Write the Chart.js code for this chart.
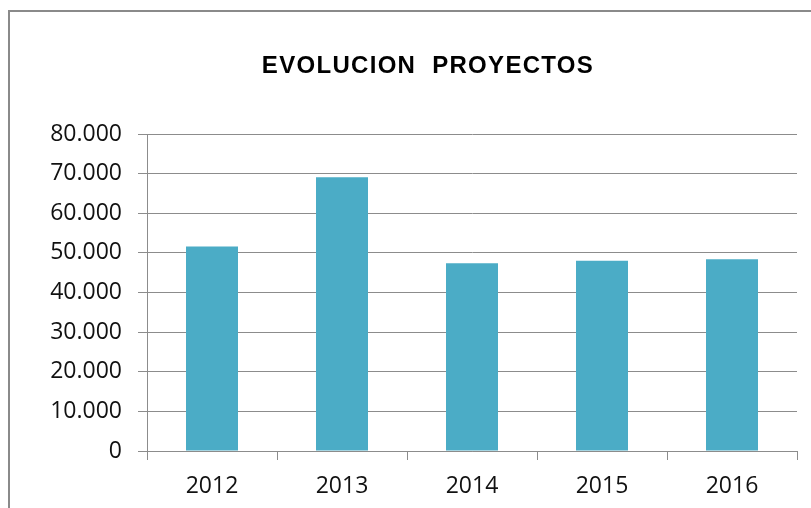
<!DOCTYPE html>
<html>
<head>
<meta charset="utf-8">
<script src="https://cdn.jsdelivr.net/npm/chart.js@4/dist/chart.umd.min.js"></script>
<style>
  body { margin: 0; background: #fff; }
  canvas { display: block; }
</style>
</head>
<body>
<canvas id="myChart" width="811" height="508"></canvas>
<script>
var years = ['2012', '2013', '2014', '2015', '2016'];
var proyectos = [51600, 69100, 47400, 48000, 48400];
var yTicks = [0, 10000, 20000, 30000, 40000, 50000, 60000, 70000, 80000];
var titulo = 'EVOLUCION  PROYECTOS';

var gridGray = '#8c8c8c';

// marco del grafico (borde gris arriba y a la izquierda) y titulo
var framePlugin = {
    id: 'frame',
    beforeDraw: function (chart) {
        var c = chart.ctx;
        c.save();
        c.fillStyle = '#fff';
        c.fillRect(0, 0, chart.width, chart.height);
        c.strokeStyle = '#8a8a8a';
        c.lineWidth = 2;
        c.beginPath();
        c.moveTo(9, chart.height);
        c.lineTo(9, 11);
        c.lineTo(chart.width, 11);
        c.stroke();
        c.restore();
    },
    afterDraw: function (chart) {
        var c = chart.ctx;
        c.save();
        c.fillStyle = '#000';
        c.font = 'bold 24px "Liberation Sans", Arial, sans-serif';
        c.letterSpacing = '1.3px';
        c.textAlign = 'center';
        c.textBaseline = 'middle';
        c.fillText(titulo, 428, 66);
        c.restore();
    }
};

var ctx = document.getElementById('myChart').getContext('2d');
var myChart = new Chart(ctx, {
    type: 'bar',
    data: {
        labels: years,
        datasets: [{
            label: 'Proyectos',
            data: proyectos,
            backgroundColor: '#4BACC6',
            borderWidth: 0,
            barPercentage: 0.4,
            categoryPercentage: 1
        }]
    },
    options: {
        responsive: false,
        animation: false,
        layout: { padding: { left: 0, right: 14, top: 134, bottom: 0 } },
        plugins: {
            legend: { display: false },
            tooltip: { enabled: false },
            title: { display: false }
        },
        scales: {
            x: {
                offset: true,
                grid: {
                    offset: true,
                    drawOnChartArea: false,
                    drawTicks: true,
                    tickLength: 9,
                    color: gridGray
                },
                border: { color: gridGray },
                ticks: {
                    color: '#111',
                    padding: 13,
                    font: { family: '"Open Sans", sans-serif', size: 23 }
                },
                afterFit: function (scale) { scale.height = 57; }
            },
            y: {
                min: 0,
                max: 80000,
                afterBuildTicks: function (scale) {
                    scale.ticks = yTicks.map(function (v) { return { value: v }; });
                },
                grid: {
                    color: gridGray,
                    tickLength: 9
                },
                border: { color: gridGray },
                ticks: {
                    color: '#111',
                    padding: 16,
                    font: { family: '"Open Sans", sans-serif', size: 23 },
                    callback: function (v) { return v.toLocaleString('de-DE'); }
                },
                afterFit: function (scale) { scale.width = 147; }
            }
        }
    },
    plugins: [framePlugin]
});
</script>
</body>
</html>
